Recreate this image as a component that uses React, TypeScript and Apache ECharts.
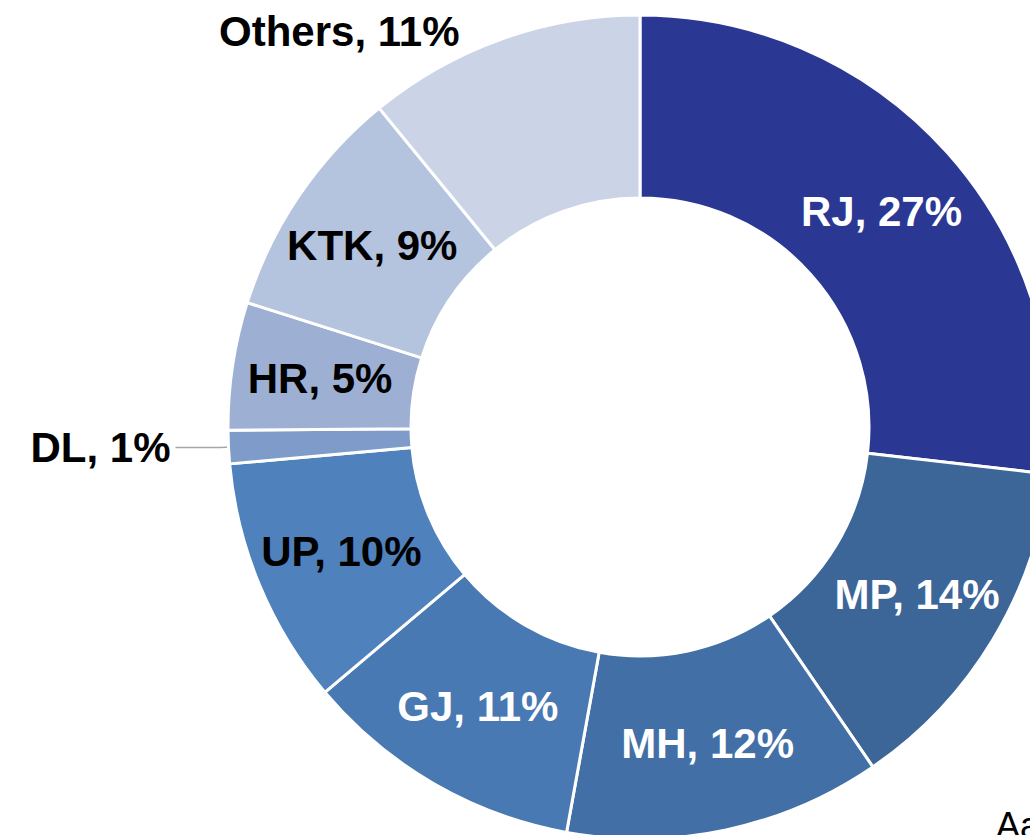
import React, { useEffect, useRef } from "react";
import * as echarts from "echarts";

const categories = ["RJ", "MP", "MH", "GJ", "UP", "DL", "HR", "KTK", "Others"];
const values = [26.8, 13.6, 12.4, 11.0, 9.7, 1.3, 5.0, 9.2, 10.9];
const colors = ["#2A3894", "#3C6598", "#416FA6", "#4879B2", "#4F81BD", "#7E9BC9", "#9DB0D4", "#B4C3DE", "#CAD4E6"];
const labelColors = ["#fff", "#fff", "#fff", "#fff", "#000", "#000", "#000", "#000", "#000"];

export default function App() {
  const ref = useRef<HTMLDivElement>(null);
  useEffect(() => {
    if (!ref.current) return;
    const chart = echarts.init(ref.current, undefined, { renderer: "svg" });
    const fmt = (p: any) => `${p.name}, ${Math.round(p.percent)}%`;
    const data = categories.map((name, i) => {
      const item: any = {
        name,
        value: values[i],
        itemStyle: { color: colors[i] },
        label: { color: labelColors[i] },
      };
      if (name === "DL") {
        item.label = {
          color: "#000",
          position: "outside",
          distanceToLabelLine: 5,
        };
        item.labelLine = {
          show: true,
          length: 8,
          length2: 45,
          smooth: false,
          lineStyle: { color: "#A6A6A6", width: 1.5 },
        };
      }
      if (name === "Others") {
        item.label = { color: "#000", offset: [-192, -91] };
      }
      return item;
    });
    chart.setOption({
      animation: false,
      backgroundColor: "#fff",
      graphic: [
        {
          type: "text",
          left: 996,
          top: 807,
          style: { text: "Aa", fontSize: 36, fill: "#000", fontFamily: "Liberation Sans, Arial, sans-serif" },
        },
      ],
      series: [
        {
          type: "pie",
          center: [640, 427],
          radius: [229, 412],
          startAngle: 90,
          clockwise: true,
          avoidLabelOverlap: false,
          itemStyle: { borderColor: "#fff", borderWidth: 3 },
          label: {
            show: true,
            position: "inside",
            formatter: fmt,
            fontSize: 42,
            fontWeight: "bold",
            fontFamily: "Liberation Sans, Arial, sans-serif",
          },
          labelLine: { show: false },
          labelLayout: (p: any) => {
            if (p.dataIndex !== categories.indexOf("DL") || !p.labelLinePoints) return {};
            const pts = p.labelLinePoints.map((q: number[]) => [q[0], q[1]]);
            pts[0] = [pts[0][0] + 90, pts[0][1] - 4];
            return { labelLinePoints: pts };
          },
          emphasis: { disabled: true },
          data,
        },
      ],
    });
    return () => chart.dispose();
  }, []);
  return (
    <div
      ref={ref}
      style={{ position: "fixed", left: 0, top: 0, width: 1030, height: 835 }}
    />
  );
}
